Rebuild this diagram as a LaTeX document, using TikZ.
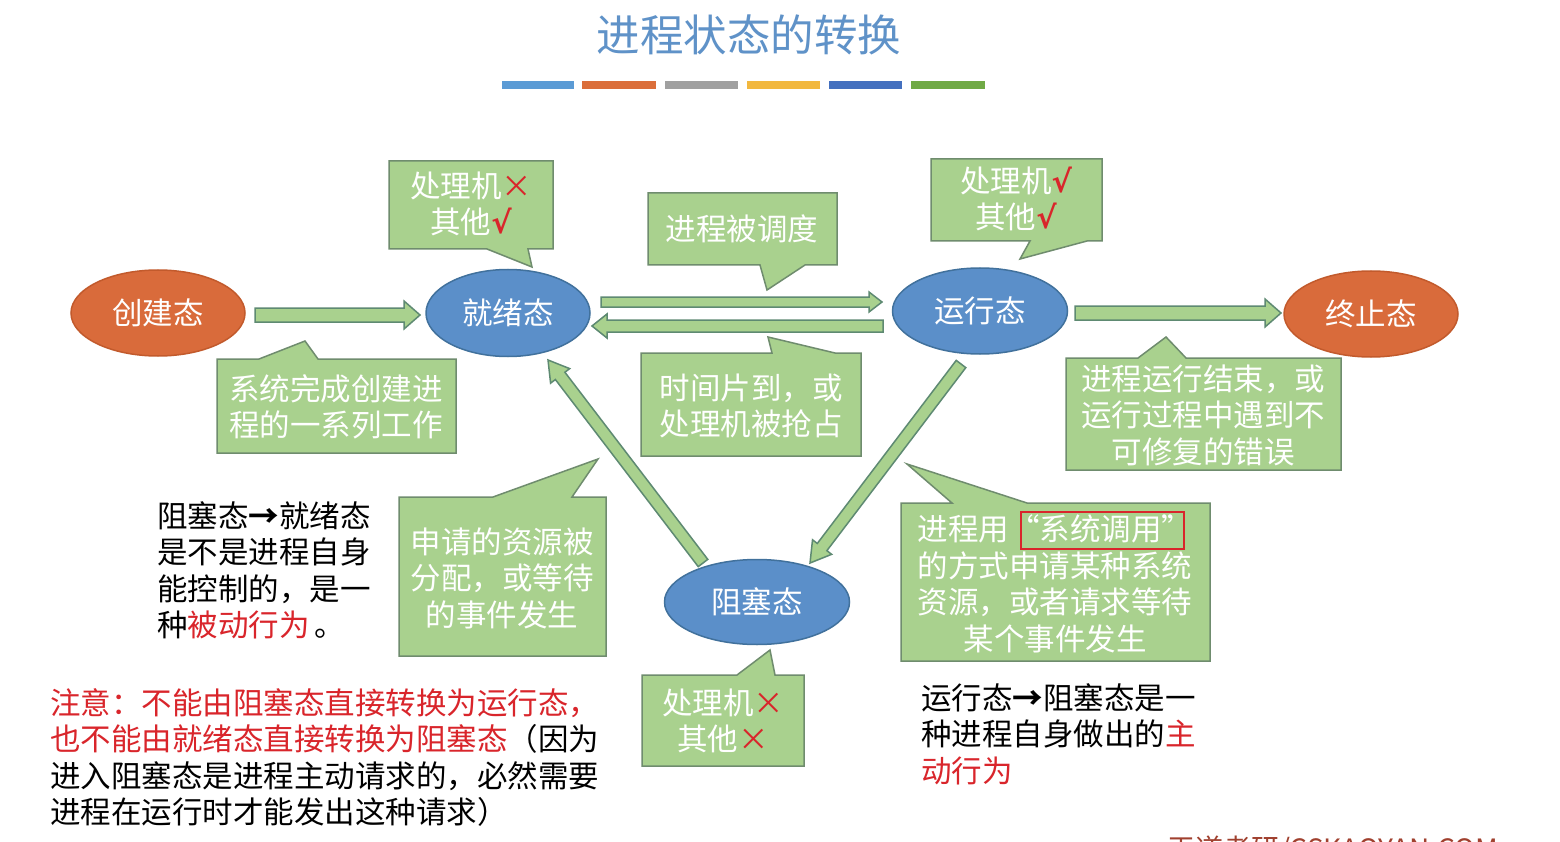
\documentclass[tikz,border=0pt]{standalone}
\usepackage{fontspec}
\newfontfamily\cjk{Noto Sans CJK SC}
\newfontfamily\chk{DejaVu Sans}
\usetikzlibrary{calc,shapes.geometric}
\definecolor{titleblue}{HTML}{5F92C8}
\definecolor{ellblue}{HTML}{5B8FC9}
\definecolor{ellblueline}{HTML}{41719C}
\definecolor{ellorange}{HTML}{D96B3B}
\definecolor{ellorangeline}{HTML}{C25A2C}
\definecolor{boxgreen}{HTML}{A9D18E}
\definecolor{boxline}{HTML}{6F8C6E}
\definecolor{arrline}{HTML}{5E8A72}
\definecolor{myred}{HTML}{D9252B}
\definecolor{barA}{HTML}{5B9BD5}
\definecolor{barB}{HTML}{DB6E3A}
\definecolor{barC}{HTML}{A0A0A0}
\definecolor{barD}{HTML}{F2B83F}
\definecolor{barE}{HTML}{4470BF}
\definecolor{barF}{HTML}{70AA45}
\definecolor{wmred}{HTML}{A0402E}
\newcommand\blockarrow[5]{%
  \coordinate (tmpH) at ($(#2)!#5!(#1)$);
  \draw[barrow] ($(#1)!#3!90:(#2)$) -- ($(tmpH)!#3!-90:(#1)$) -- ($(tmpH)!#4!-90:(#1)$)
    -- (#2) -- ($(tmpH)!#4!90:(#1)$) -- ($(tmpH)!#3!90:(#1)$) -- ($(#1)!#3!-90:(#2)$) -- cycle;
}
\newcommand\yes{{\color{myred}\chk\bfseries √}}
\newcommand\no{{\color{myred}×}}
\begin{document}
\begin{tikzpicture}[x=1pt,y=-1pt,
  txt/.style={font={\cjk\fontsize{30.5}{36.5}\selectfont}},
  ctext/.style={txt, text=white, align=center, inner sep=0pt},
  callout/.style={fill=boxgreen, draw=boxline, line width=1.5pt, line join=miter},
  barrow/.style={fill=boxgreen, draw=arrline, line width=1.5pt, line join=miter},
  blueell/.style={ellipse, fill=ellblue, draw=ellblueline, line width=1.5pt, text=white, txt, inner sep=0pt},
  orangeell/.style={ellipse, fill=ellorange, draw=ellorangeline, line width=1.5pt, text=white, txt, inner sep=0pt},
  plain/.style={txt, align=left, inner sep=0pt, anchor=north west}
]
\useasboundingbox (0,0) rectangle (1560,842);
\fill[white] (0,0) rectangle (1560,842);

% title
\node[font={\cjk\fontsize{43.5}{48}\selectfont}, text=titleblue] (title) at (749,35) {进程状态的转换};
\fill[barA] (502,81) rectangle (574,89);
\fill[barB] (582,81) rectangle (656,89);
\fill[barC] (665,81) rectangle (738,89);
\fill[barD] (747,81) rectangle (820,89);
\fill[barE] (829,81) rectangle (902,89);
\fill[barF] (911,81) rectangle (985,89);

% callouts
\draw[callout] (389,161) -- (553,161) -- (553,249) -- (528,249) -- (532,267) -- (487,249) -- (389,249) -- cycle;
\node[ctext] (cA) at (471,204) {处理机\no\\其他\yes};

\draw[callout] (648,193) -- (837,193) -- (837,265) -- (805,265) -- (767,290) -- (760,265) -- (648,265) -- cycle;
\node[ctext] (cB) at (742,229) {进程被调度};

\draw[callout] (931,159) -- (1102,159) -- (1102,241) -- (1087,241) -- (1020,259) -- (1030,241) -- (931,241) -- cycle;
\node[ctext] (cC) at (1016,199) {处理机\yes\\其他\yes};

\draw[callout] (217,359) -- (259,359) -- (305,341) -- (318,359) -- (456,359) -- (456,453) -- (217,453) -- cycle;
\node[ctext] (cD) at (336,407) {系统完成创建进\\程的一系列工作};

\draw[callout] (641,353) -- (772,353) -- (768,337) -- (835,353) -- (861,353) -- (861,456) -- (641,456) -- cycle;
\node[ctext] (cE) at (751,406) {时间片到，或\\处理机被抢占};

\draw[callout] (1066,358) -- (1138,358) -- (1166,337) -- (1186,358) -- (1341,358) -- (1341,470) -- (1066,470) -- cycle;
\node[ctext] (cF) at (1203,415) {进程运行结束，或\\运行过程中遇到不\\可修复的错误};

\draw[callout] (399,497) -- (493,497) -- (598,459) -- (572,497) -- (606,497) -- (606,656) -- (399,656) -- cycle;
\node[ctext] (cG) at (502,578) {申请的资源被\\分配，或等待\\的事件发生};

\draw[callout] (901,503) -- (952,503) -- (907,464) -- (1027,503) -- (1210,503) -- (1210,661) -- (901,661) -- cycle;
\node[ctext] (cH) at (1055,584) {进程用“系统调用”\\的方式申请某种系统\\资源，或者请求等待\\某个事件发生};
\draw[myred, line width=2.5pt] (1021,512) rectangle (1184,549);

\draw[callout] (642,675) -- (737,675) -- (770,650) -- (775,675) -- (804,675) -- (804,766) -- (642,766) -- cycle;
\node[ctext] (cI) at (723,721) {处理机\no\\其他\no};

% states
\node[orangeell, minimum width=174pt, minimum height=86pt] (create) at (158,313) {创建态};
\node[blueell, minimum width=164pt, minimum height=87pt] (ready) at (508,313) {就绪态};
\node[blueell, minimum width=175pt, minimum height=86pt] (run) at (980,311) {运行态};
\node[orangeell, minimum width=174pt, minimum height=86pt] (term) at (1371,314) {终止态};
\node[blueell, minimum width=185pt, minimum height=85pt] (block) at (757,602) {阻塞态};

% arrow end points
\coordinate (a1s) at (255,315);
\coordinate (a1e) at (420,315);
\coordinate (a2s) at (601,302);
\coordinate (a2e) at (882,302);
\coordinate (a3s) at (883,326);
\coordinate (a3e) at (592,326);
\coordinate (a4s) at (703,563);
\coordinate (a4e) at (548,360);
\coordinate (a5s) at (961,364);
\coordinate (a5e) at (810,563);
\coordinate (a6s) at (1075,313);
\coordinate (a6e) at (1281,313);

\blockarrow{a1s}{a1e}{7pt}{14pt}{16pt}
\blockarrow{a2s}{a2e}{5pt}{10pt}{13pt}
\blockarrow{a3s}{a3e}{6pt}{12pt}{15pt}
\blockarrow{a4s}{a4e}{6pt}{12pt}{20pt}
\blockarrow{a5s}{a5e}{6pt}{12pt}{20pt}
\blockarrow{a6s}{a6e}{7pt}{14pt}{16pt}

% plain texts
\node[plain] (left) at (157,501) {阻塞态{\bfseries →}就绪态\\是不是进程自身\\能控制的，是一\\种{\color{myred}被动行为}\,。};
\node[plain] (note) at (50,688) {{\color{myred}注意：不能由阻塞态直接转换为运行态，}\\{\color{myred}也不能由就绪态直接转换为阻塞态}（因为\\进入阻塞态是进程主动请求的，必然需要\\进程在运行时才能发出这种请求）};
\node[plain] (right) at (921,683) {运行态{\bfseries →}阻塞态是一\\种进程自身做出的{\color{myred}主}\\{\color{myred}动行为}};

% watermark (cut off at the bottom, as in the source)
\node[font={\cjk\fontsize{28}{32}\selectfont}, text=wmred, anchor=west, inner sep=0pt] (wm) at (1167,850) {王道考研/CSKAOYAN.COM};
\end{tikzpicture}
\end{document}
